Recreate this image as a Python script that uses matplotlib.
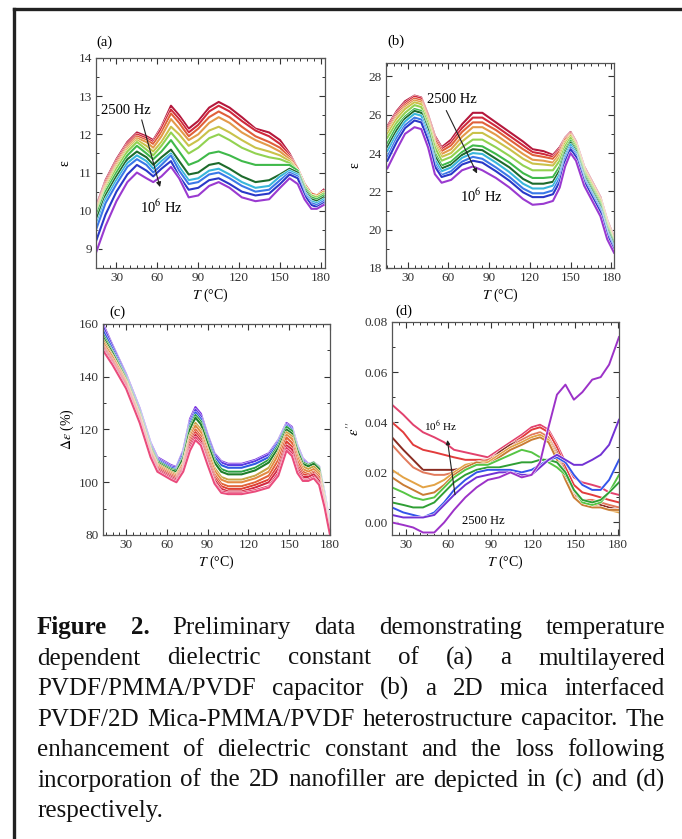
import numpy as np
import matplotlib
matplotlib.use('Agg')
import matplotlib.pyplot as plt
from matplotlib.lines import Line2D
from matplotlib.ticker import MultipleLocator, FormatStrFormatter
import matplotlib.patheffects as pe

plt.rcParams['font.family'] = ['Liberation Serif', 'DejaVu Serif']
plt.rcParams['mathtext.fontset'] = 'stix'

# ---------------- data ----------------
# (a) multilayered PVDF/PMMA/PVDF, 2500 Hz (top) -> 1e6 Hz (bottom)
T_a = [15, 22, 30, 38, 45, 52, 57, 63, 70, 76, 83, 90, 98, 105, 113, 122, 132, 142, 150, 157, 163, 168, 173, 177, 182]
eps_a = [
    [10.1, 10.8, 11.35, 11.8, 12.05, 11.95, 11.85, 12.2, 12.75, 12.5, 12.15, 12.35, 12.7, 12.85, 12.7, 12.45, 12.15, 12.05, 11.85, 11.5, 11.1, 10.7, 10.45, 10.4, 10.55],
    [10.05, 10.75, 11.3, 11.75, 12.0, 11.9, 11.8, 12.15, 12.65, 12.4, 12.05, 12.25, 12.6, 12.75, 12.6, 12.35, 12.1, 11.95, 11.75, 11.45, 11.1, 10.7, 10.45, 10.4, 10.5],
    [10.0, 10.7, 11.25, 11.7, 11.95, 11.85, 11.75, 12.05, 12.55, 12.3, 11.95, 12.15, 12.45, 12.6, 12.45, 12.2, 11.95, 11.8, 11.65, 11.4, 11.1, 10.7, 10.45, 10.4, 10.5],
    [10.0, 10.65, 11.2, 11.65, 11.9, 11.8, 11.65, 11.95, 12.4, 12.15, 11.85, 12.0, 12.3, 12.45, 12.3, 12.05, 11.85, 11.7, 11.55, 11.35, 11.05, 10.65, 10.4, 10.4, 10.5],
    [9.95, 10.6, 11.15, 11.6, 11.85, 11.7, 11.55, 11.8, 12.2, 12.0, 11.7, 11.85, 12.1, 12.2, 12.05, 11.85, 11.65, 11.55, 11.45, 11.3, 11.05, 10.65, 10.4, 10.35, 10.45],
    [9.9, 10.55, 11.1, 11.55, 11.8, 11.6, 11.45, 11.7, 12.05, 11.8, 11.5, 11.65, 11.9, 12.0, 11.85, 11.65, 11.5, 11.4, 11.35, 11.25, 11.05, 10.65, 10.4, 10.35, 10.45],
    [9.85, 10.5, 11.0, 11.45, 11.7, 11.5, 11.35, 11.55, 11.85, 11.55, 11.2, 11.3, 11.5, 11.55, 11.45, 11.3, 11.2, 11.2, 11.2, 11.2, 11.05, 10.6, 10.35, 10.3, 10.4],
    [9.75, 10.4, 10.9, 11.35, 11.55, 11.4, 11.2, 11.4, 11.6, 11.3, 10.95, 11.0, 11.2, 11.25, 11.1, 10.9, 10.75, 10.8, 10.95, 11.1, 11.0, 10.55, 10.3, 10.25, 10.35],
    [9.6, 10.3, 10.8, 11.25, 11.45, 11.3, 11.1, 11.3, 11.5, 11.15, 10.8, 10.85, 11.05, 11.1, 10.95, 10.75, 10.6, 10.65, 10.9, 11.05, 10.95, 10.5, 10.25, 10.2, 10.3],
    [9.5, 10.2, 10.7, 11.15, 11.35, 11.2, 11.0, 11.2, 11.45, 11.05, 10.7, 10.75, 10.95, 11.0, 10.85, 10.65, 10.5, 10.55, 10.8, 11.0, 10.9, 10.45, 10.2, 10.15, 10.25],
    [9.2, 9.9, 10.5, 10.95, 11.2, 11.05, 10.9, 11.1, 11.3, 10.9, 10.55, 10.6, 10.8, 10.85, 10.7, 10.5, 10.4, 10.45, 10.7, 10.95, 10.85, 10.4, 10.15, 10.1, 10.2],
    [8.9, 9.6, 10.25, 10.75, 11.0, 10.85, 10.75, 10.9, 11.15, 10.85, 10.35, 10.4, 10.65, 10.75, 10.6, 10.35, 10.25, 10.3, 10.6, 10.85, 10.7, 10.3, 10.05, 10.05, 10.15],
]

# (b) PVDF/2D Mica-PMMA/PVDF, 2500 Hz (top) -> 1e6 Hz (bottom)
T_b = [15, 22, 28, 35, 40, 45, 50, 55, 62, 70, 78, 85, 95, 105, 115, 122, 130, 137, 142, 146, 150, 154, 160, 166, 172, 177, 182]
eps_b = [
    [25.4, 26.2, 26.7, 27.0, 26.9, 26.0, 24.9, 24.3, 24.7, 25.5, 26.1, 26.1, 25.6, 25.1, 24.6, 24.2, 24.1, 23.9, 24.3, 24.8, 25.1, 24.6, 23.3, 22.5, 21.7, 20.5, 19.6],
    [25.3, 26.1, 26.6, 26.95, 26.85, 25.95, 24.8, 24.2, 24.55, 25.3, 25.85, 25.85, 25.4, 24.9, 24.4, 24.05, 23.95, 23.8, 24.2, 24.75, 25.05, 24.55, 23.25, 22.45, 21.65, 20.45, 19.55],
    [25.2, 26.0, 26.5, 26.85, 26.75, 25.85, 24.7, 24.1, 24.4, 25.1, 25.6, 25.6, 25.2, 24.7, 24.2, 23.9, 23.8, 23.7, 24.1, 24.7, 25.0, 24.5, 23.2, 22.4, 21.6, 20.4, 19.5],
    [25.1, 25.9, 26.4, 26.75, 26.65, 25.75, 24.55, 23.95, 24.2, 24.85, 25.35, 25.35, 24.95, 24.45, 23.95, 23.65, 23.6, 23.5, 23.95, 24.6, 24.95, 24.45, 23.15, 22.35, 21.55, 20.35, 19.45],
    [25.0, 25.8, 26.3, 26.65, 26.55, 25.65, 24.45, 23.8, 24.0, 24.6, 25.05, 25.05, 24.65, 24.2, 23.7, 23.45, 23.4, 23.35, 23.8, 24.5, 24.9, 24.4, 23.1, 22.3, 21.5, 20.3, 19.4],
    [24.8, 25.6, 26.1, 26.5, 26.4, 25.5, 24.3, 23.6, 23.8, 24.3, 24.7, 24.7, 24.3, 23.85, 23.35, 23.1, 23.1, 23.1, 23.6, 24.35, 24.8, 24.3, 23.0, 22.2, 21.4, 20.2, 19.35],
    [24.5, 25.4, 25.9, 26.3, 26.2, 25.3, 24.0, 23.35, 23.55, 24.05, 24.4, 24.35, 23.95, 23.5, 22.95, 22.7, 22.7, 22.75, 23.3, 24.15, 24.65, 24.2, 22.9, 22.1, 21.3, 20.1, 19.3],
    [24.3, 25.2, 25.8, 26.2, 26.1, 25.2, 23.85, 23.2, 23.4, 23.9, 24.2, 24.15, 23.7, 23.25, 22.65, 22.4, 22.4, 22.5, 23.1, 24.0, 24.55, 24.1, 22.8, 22.0, 21.2, 20.0, 19.2],
    [24.1, 25.0, 25.65, 26.05, 25.95, 25.0, 23.65, 23.05, 23.25, 23.75, 24.0, 23.95, 23.5, 23.0, 22.4, 22.15, 22.15, 22.3, 22.9, 23.85, 24.45, 24.0, 22.7, 21.9, 21.1, 19.9, 19.1],
    [23.8, 24.8, 25.45, 25.85, 25.75, 24.8, 23.45, 22.85, 23.05, 23.55, 23.8, 23.7, 23.25, 22.75, 22.15, 21.9, 21.9, 22.05, 22.7, 23.7, 24.3, 23.9, 22.6, 21.8, 21.0, 19.8, 19.0],
    [23.6, 24.6, 25.3, 25.7, 25.6, 24.65, 23.3, 22.75, 22.9, 23.4, 23.6, 23.5, 23.05, 22.55, 21.95, 21.7, 21.7, 21.85, 22.5, 23.55, 24.2, 23.8, 22.5, 21.7, 20.9, 19.7, 18.9],
    [23.2, 24.2, 25.0, 25.35, 25.25, 24.3, 22.9, 22.45, 22.6, 23.1, 23.3, 23.1, 22.7, 22.2, 21.6, 21.3, 21.35, 21.5, 22.2, 23.3, 24.0, 23.6, 22.3, 21.5, 20.7, 19.5, 18.8],
]

# (c) enhancement of dielectric constant (%), top -> bottom
T_c = [13, 20, 30, 40, 48, 53, 58, 63, 67, 72, 77, 81, 85, 90, 95, 100, 105, 115, 125, 135, 142, 148, 152, 156, 160, 164, 168, 172, 176, 180]
de_c = [
    [160, 152, 141, 128, 115, 109.5, 108, 106.5, 105.8, 112, 124, 128.5, 126, 118, 111, 108, 107, 107, 108.5, 111, 116, 122.5, 121, 114, 109, 107, 107.5, 106, 96, 84],
    [159, 151.5, 140.5, 127.5, 114.5, 109, 107.5, 106, 105.5, 111.5, 123, 127.5, 125, 117.5, 110.5, 107.5, 106.5, 106.5, 108, 110.5, 115.5, 122, 120.5, 113.5, 108.5, 106.8, 107.3, 105.8, 95.5, 83.5],
    [157.5, 150.5, 140, 127, 114, 108.5, 107, 105.5, 105, 110.5, 122, 126.5, 124, 116.5, 109.5, 106.5, 105.5, 105.5, 107, 109.5, 115, 121.5, 120, 113, 108, 106.5, 107.2, 105.5, 95, 83],
    [156, 149.5, 139.5, 126.5, 113.5, 108, 106.5, 105, 104.5, 109.5, 121, 125.5, 123, 115.5, 108.5, 105, 104, 104, 105.5, 108.5, 114, 121, 119.5, 112.5, 107.5, 106.5, 107.5, 105.5, 94.5, 82.5],
    [155, 149, 139, 126, 113, 107.5, 106, 104.5, 104, 109, 120, 124.5, 122, 114.5, 107.5, 104, 103, 103, 104.5, 107.5, 113, 120, 118.5, 112, 107, 106, 107, 105, 94, 82],
    [154, 148, 138.5, 125.5, 112.5, 107, 105.5, 104, 103, 107.5, 118, 122.5, 120, 112.5, 105.5, 102, 101, 101, 102.5, 105.5, 111.5, 119, 117.5, 110.5, 106, 105, 106, 104, 93.5, 82],
    [153, 147.5, 138, 125, 112, 106.5, 105, 103.5, 102.5, 107, 117, 121.5, 119, 111.5, 104.5, 101, 100, 100, 101.5, 104, 110.5, 118, 116.5, 109.5, 105, 104, 105, 103, 93, 81.5],
    [152, 146.5, 137.5, 124.5, 111.5, 106, 104.5, 103, 102, 106, 116, 120, 117.5, 110, 103, 99.5, 98.5, 98.5, 100, 102.5, 108.5, 117, 115, 108, 104, 103, 104, 102, 92.5, 81.5],
    [151.5, 146, 137, 124, 111, 105.5, 104, 102.5, 101.5, 105.5, 115, 119, 116.5, 109, 102, 98.5, 97.5, 97.5, 99, 101, 106.5, 115.5, 113.5, 106.5, 103, 102.5, 103.5, 101, 92, 81],
    [151, 145.5, 136.5, 123.5, 110.5, 105, 103.5, 102, 101, 105, 114, 118, 115.5, 108, 101, 97.5, 96.5, 96.5, 98, 100, 105, 114, 112.5, 105.5, 102, 102, 103, 100.5, 91.5, 81],
    [150.5, 145, 136, 123, 110, 104.5, 103, 101.5, 100.5, 104.5, 113, 117, 114.5, 107, 100, 96.5, 96, 96, 97, 98.5, 103.5, 113, 111, 104.5, 101, 101, 102, 99.5, 91, 80.5],
    [150, 144.5, 135.5, 122.5, 109.5, 104, 102.5, 101, 100, 104, 112, 116, 114, 106.5, 99.5, 96, 95.5, 95.5, 96.5, 98, 102.5, 112, 110, 103.5, 100.5, 100.5, 101.5, 99, 90.5, 80],
]

# (d) dielectric loss
T_d = [20, 28, 35, 42, 50, 57, 64, 72, 80, 88, 96, 104, 112, 119, 125, 131, 137, 143, 149, 155, 162, 168, 174, 181]
loss_d = [
    [0.047, 0.043, 0.039, 0.036, 0.034, 0.032, 0.029, 0.028, 0.027, 0.026, 0.029, 0.032, 0.035, 0.038, 0.039, 0.037, 0.031, 0.024, 0.018, 0.016, 0.015, 0.014, 0.012, 0.011],
    [0.040, 0.036, 0.031, 0.029, 0.028, 0.027, 0.026, 0.025, 0.025, 0.025, 0.028, 0.031, 0.034, 0.037, 0.038, 0.036, 0.030, 0.022, 0.015, 0.012, 0.011, 0.010, 0.009, 0.008],
    [0.034, 0.029, 0.025, 0.021, 0.021, 0.021, 0.021, 0.022, 0.023, 0.024, 0.028, 0.031, 0.033, 0.035, 0.036, 0.034, 0.028, 0.020, 0.012, 0.009, 0.008, 0.007, 0.006, 0.006],
    [0.031, 0.026, 0.022, 0.020, 0.019, 0.019, 0.020, 0.022, 0.024, 0.025, 0.027, 0.030, 0.033, 0.035, 0.036, 0.034, 0.027, 0.019, 0.011, 0.009, 0.009, 0.008, 0.007, 0.006],
    [0.021, 0.018, 0.016, 0.014, 0.015, 0.017, 0.020, 0.023, 0.024, 0.024, 0.027, 0.030, 0.032, 0.034, 0.035, 0.033, 0.026, 0.018, 0.010, 0.007, 0.007, 0.006, 0.005, 0.004],
    [0.018, 0.015, 0.013, 0.011, 0.012, 0.015, 0.019, 0.022, 0.024, 0.023, 0.026, 0.029, 0.031, 0.033, 0.034, 0.032, 0.025, 0.017, 0.010, 0.007, 0.006, 0.006, 0.005, 0.005],
    [0.014, 0.012, 0.010, 0.009, 0.010, 0.014, 0.018, 0.021, 0.023, 0.023, 0.025, 0.027, 0.029, 0.028, 0.026, 0.024, 0.022, 0.019, 0.013, 0.008, 0.007, 0.008, 0.012, 0.019],
    [0.008, 0.007, 0.006, 0.006, 0.008, 0.012, 0.016, 0.019, 0.021, 0.022, 0.022, 0.023, 0.024, 0.024, 0.025, 0.025, 0.024, 0.020, 0.013, 0.009, 0.008, 0.009, 0.012, 0.016],
    [0.006, 0.004, 0.003, 0.002, 0.004, 0.008, 0.013, 0.017, 0.020, 0.021, 0.021, 0.021, 0.020, 0.021, 0.023, 0.025, 0.026, 0.024, 0.019, 0.015, 0.013, 0.013, 0.017, 0.025],
    [0.003, 0.002, 0.002, 0.002, 0.003, 0.007, 0.011, 0.015, 0.018, 0.019, 0.020, 0.020, 0.019, 0.019, 0.022, 0.025, 0.027, 0.025, 0.023, 0.023, 0.025, 0.027, 0.031, 0.041],
    [0.000, -0.001, -0.002, -0.004, -0.004, 0.000, 0.005, 0.010, 0.014, 0.017, 0.018, 0.020, 0.018, 0.019, 0.024, 0.038, 0.051, 0.055, 0.049, 0.052, 0.057, 0.058, 0.063, 0.074],
]

caption = [
    "Figure 2. Preliminary data demonstrating temperature",
    "dependent dielectric constant of (a) a multilayered",
    "PVDF/PMMA/PVDF capacitor (b) a 2D mica interfaced",
    "PVDF/2D Mica-PMMA/PVDF heterostructure capacitor. The",
    "enhancement of dielectric constant and the loss following",
    "incorporation of the 2D nanofiller are depicted in (c) and (d)",
    "respectively.",
]

# ---------------- styles ----------------
col_ab = ['#b5183c', '#d02a3c', '#e0603a', '#e39a4a', '#c9c24a', '#92d251', '#3fb94a',
          '#1d6b2c', '#39b6da', '#3a78e8', '#2a38c8', '#9a3ad0']
col_c = ['#7a32e2', '#5a3ae2', '#2f5ae2', '#2aa043', '#1f7f2a', '#c9a545', '#e38a42',
         '#e2643a', '#df4034', '#d22a44', '#e33464', '#ea4c7c']
col_d = ['#e2426e', '#e23c3c', '#8a2c22', '#e27a5c', '#e3a346', '#c97c34', '#56c544',
         '#2f9f34', '#3454ea', '#7232d4', '#9c32c8']

W, H = 682, 839
fig = plt.figure(figsize=(W / 100, H / 100), dpi=100)
fig.patch.set_facecolor('white')


def box(l, t, r, b):
    return [l / W, 1 - b / H, (r - l) / W, (b - t) / H]


def style(ax, xlim, ylim, ymaj, ymin, fmt=None):
    ax.set_xlim(*xlim)
    ax.set_ylim(*ylim)
    ax.set_xticks([30, 60, 90, 120, 150, 180])
    ax.xaxis.set_minor_locator(MultipleLocator(5))
    ax.yaxis.set_major_locator(MultipleLocator(ymaj))
    ax.yaxis.set_minor_locator(MultipleLocator(ymin))
    ax.tick_params(which='both', direction='in', top=True, right=True,
                   labelsize=9.5, colors='#333', pad=3)
    ax.tick_params(which='major', length=4, width=0.8)
    ax.tick_params(which='minor', length=2, width=0.7)
    for s in ax.spines.values():
        s.set_color('#555')
        s.set_linewidth(0.9)
    if fmt:
        ax.yaxis.set_major_formatter(fmt)
    ax.set_xlabel(r'$T$ (°C)', fontsize=10, labelpad=2)


halo = [pe.withStroke(linewidth=2.1, foreground='white')]
arrow = dict(arrowstyle='-|>', color='#222', lw=0.8, mutation_scale=7)

# (a)
ax_a = fig.add_axes(box(96, 58, 325, 268))
for ys, c in zip(eps_a, col_ab):
    ax_a.plot(T_a, ys, color=c, lw=1.5, path_effects=halo)
style(ax_a, (15, 183), (8.5, 14), 1, 0.5)
ax_a.set_ylabel('ε', fontsize=10, labelpad=5)
ax_a.annotate('', xy=(62.5, 10.55), xytext=(48, 12.45), arrowprops=arrow)
ax_a.text(37, 12.62, '2500 Hz', fontsize=10.5, ha='center', va='center')
ax_a.text(63, 10.08, r'10$^6$ Hz', fontsize=10.5, ha='center', va='center')

# (b)
ax_b = fig.add_axes(box(386, 63, 614, 268))
for ys, c in zip(eps_b, col_ab):
    ax_b.plot(T_b, ys, color=c, lw=1.5, path_effects=halo)
style(ax_b, (14, 182), (18, 28.7), 2, 1)
ax_b.set_ylabel('ε', fontsize=10, labelpad=5)
ax_b.annotate('', xy=(82, 22.8), xytext=(57.5, 26.35), arrowprops=arrow)
ax_b.text(62.5, 26.8, '2500 Hz', fontsize=10.5, ha='center', va='center')
ax_b.text(84.5, 21.75, r'10$^6$ Hz', fontsize=10.5, ha='center', va='center')

# (c)
ax_c = fig.add_axes(box(103, 324, 330, 535))
for ys, c in zip(de_c, col_c):
    ax_c.plot(T_c, ys, color=c, lw=1.5, path_effects=halo)
style(ax_c, (13, 179), (80, 160), 20, 10)
ax_c.set_ylabel(r'$\Delta\varepsilon$ (%)', fontsize=10, labelpad=2)

# (d)
ax_d = fig.add_axes(box(392, 322, 619, 535))
for ys, c in zip(loss_d, col_d):
    ax_d.plot(T_d, ys, color=c, lw=1.4, path_effects=halo)
style(ax_d, (20, 181), (-0.005, 0.08), 0.02, 0.01, fmt=FormatStrFormatter('%.2f'))
ax_d.set_ylabel(r"$\varepsilon''$", fontsize=10.5, labelpad=2)
ax_d.annotate('', xy=(59, 0.034), xytext=(65, 0.010),
              arrowprops=dict(arrow, mutation_scale=6))
ax_d.text(54.5, 0.0385, r'10$^6$ Hz', fontsize=8, ha='center', va='center')
ax_d.text(85, 0.0005, '2500 Hz', fontsize=9, ha='center', va='center')

# panel letters
for lab, (px, py) in zip(['(a)', '(b)', '(c)', '(d)'],
                         [(104, 42), (396, 41), (117, 312), (404, 311)]):
    fig.text(px / W, 1 - py / H, lab, fontsize=10.5, ha='center', va='center')

# frame of the figure box (left and top edges only are visible)
fig.add_artist(Line2D([14 / W, 14 / W], [0, 1 - 9 / H], transform=fig.transFigure,
                      color='#222', lw=2.4))
fig.add_artist(Line2D([14 / W, 1], [1 - 9 / H, 1 - 9 / H], transform=fig.transFigure,
                      color='#222', lw=2.4))

# justified caption; font sized so the tightest line (4th) nearly fills the width
renderer = fig.canvas.get_renderer()
L, R = 37, 665
probe = fig.text(0, 0, caption[3], fontsize=16)
fs = 16 * (R - L) * 0.985 / probe.get_window_extent(renderer).width
probe.remove()
for i, line in enumerate(caption):
    yb = 1 - (634 + 30.5 * i) / H
    words = line.split(' ')
    arts = []
    for j, w in enumerate(words):
        bold = (i == 0 and j < 2)
        t = fig.text(0, yb, w, fontsize=fs, fontweight='bold' if bold else 'normal',
                     ha='left', va='baseline', color='#111')
        arts.append(t)
    widths = [a.get_window_extent(renderer).width for a in arts]
    if i < len(caption) - 1:
        gap = (R - L - sum(widths)) / (len(words) - 1)
    else:
        gap = fs * 100 / 72 * 0.25
    x = L
    for a, w in zip(arts, widths):
        a.set_x(x / W)
        x += w + gap

fig.savefig('out.png', dpi=100)
